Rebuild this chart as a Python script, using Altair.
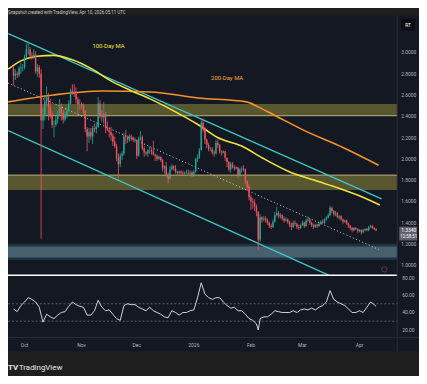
import altair as alt
import pandas as pd

# ---------------- data (XRP/USDT daily) ----------------
start_day = -6          # day index, 0 = 1 Oct 2025
first_open = 2.85
closes = [
    2.78, 2.80, 2.79, 2.85, 2.86, 2.86,
    2.96, 3.03, 3.03, 2.97, 2.96, 2.98, 2.82, 2.86, 2.80, 2.36,
    2.40, 2.54, 2.58, 2.49, 2.41, 2.32, 2.32, 2.37, 2.42, 2.49,
    2.43, 2.37, 2.41, 2.45, 2.52, 2.64, 2.63, 2.61, 2.56, 2.51,
    2.51, 2.50, 2.45, 2.28, 2.21, 2.25, 2.21, 2.29, 2.28, 2.30,
    2.52, 2.41, 2.39, 2.42, 2.29, 2.27, 2.25, 2.22, 2.16, 2.12,
    2.01, 1.95, 2.03, 2.05, 2.21, 2.20, 2.18, 2.21, 2.20, 2.18,
    2.18, 2.03, 2.19, 2.20, 2.10, 2.06, 2.05, 2.08, 2.08, 2.07,
    2.04, 2.03, 2.00, 2.02, 1.99, 1.91, 1.93, 1.84, 1.81, 1.90,
    1.93, 1.91, 1.88, 1.87, 1.88, 1.87, 1.86, 1.87, 1.87, 1.86,
    1.87, 1.84, 1.88, 2.00, 2.01, 2.08, 2.34, 2.28, 2.18, 2.13,
    2.09, 2.09, 2.06, 2.05, 2.15, 2.13, 2.07, 2.06, 2.07, 2.01,
    1.97, 1.90, 1.95, 1.92, 1.91, 1.92, 1.84, 1.90, 1.91, 1.90,
    1.79, 1.74, 1.64, 1.60, 1.59, 1.55, 1.50, 1.24, 1.45, 1.43,
    1.44, 1.42, 1.40, 1.37, 1.36, 1.41, 1.47, 1.49, 1.46, 1.47,
    1.44, 1.42, 1.43, 1.41, 1.38, 1.36, 1.40, 1.39, 1.36, 1.35,
    1.38, 1.40, 1.37, 1.42, 1.43, 1.40, 1.38, 1.36, 1.38, 1.37,
    1.39, 1.41, 1.40, 1.43, 1.45, 1.47, 1.54, 1.51, 1.48, 1.49,
    1.45, 1.46, 1.43, 1.41, 1.42, 1.39, 1.37, 1.35, 1.33, 1.35,
    1.34, 1.32, 1.33, 1.31, 1.33, 1.34, 1.33, 1.36, 1.37, 1.35,
    1.34, 1.33,
]
highs = [
    2.87, 2.84, 2.82, 2.87, 2.90, 2.89,
    2.98, 3.08, 3.10, 3.05, 3.00, 3.03, 3.01, 2.89, 2.88, 2.84,
    2.48, 2.58, 2.68, 2.62, 2.56, 2.45, 2.36, 2.40, 2.45, 2.56,
    2.52, 2.46, 2.44, 2.48, 2.55, 2.66, 2.70, 2.70, 2.67, 2.58,
    2.56, 2.53, 2.52, 2.46, 2.30, 2.29, 2.29, 2.31, 2.33, 2.34,
    2.58, 2.55, 2.46, 2.53, 2.44, 2.35, 2.30, 2.30, 2.24, 2.21,
    2.14, 2.05, 2.05, 2.07, 2.24, 2.27, 2.22, 2.23, 2.23, 2.21,
    2.20, 2.18, 2.21, 2.26, 2.22, 2.12, 2.07, 2.09, 2.12, 2.10,
    2.17, 2.05, 2.04, 2.03, 2.02, 2.00, 1.94, 1.97, 1.87, 1.93,
    1.95, 1.94, 1.94, 1.89, 1.89, 1.89, 1.89, 1.88, 1.90, 1.90,
    1.89, 1.89, 1.89, 2.01, 2.04, 2.10, 2.36, 2.38, 2.30, 2.19,
    2.15, 2.11, 2.11, 2.08, 2.18, 2.18, 2.14, 2.08, 2.08, 2.07,
    2.01, 1.98, 1.97, 1.97, 1.94, 1.93, 1.92, 1.91, 1.93, 1.94,
    1.91, 1.80, 1.76, 1.66, 1.63, 1.62, 1.57, 1.51, 1.48, 1.46,
    1.46, 1.46, 1.44, 1.41, 1.39, 1.43, 1.50, 1.55, 1.51, 1.49,
    1.48, 1.46, 1.45, 1.44, 1.42, 1.40, 1.42, 1.42, 1.40, 1.38,
    1.39, 1.42, 1.41, 1.44, 1.46, 1.44, 1.41, 1.39, 1.39, 1.39,
    1.41, 1.42, 1.43, 1.44, 1.46, 1.49, 1.56, 1.55, 1.52, 1.51,
    1.50, 1.47, 1.47, 1.44, 1.43, 1.43, 1.40, 1.38, 1.36, 1.36,
    1.36, 1.35, 1.34, 1.34, 1.34, 1.35, 1.35, 1.37, 1.38, 1.38,
    1.36, 1.35,
]
lows = [
    2.69, 2.74, 2.76, 2.77, 2.80, 2.82,
    2.84, 2.94, 2.98, 2.95, 2.93, 2.94, 2.80, 2.77, 2.76, 1.25,
    2.28, 2.36, 2.50, 2.36, 2.38, 2.29, 2.20, 2.30, 2.33, 2.40,
    2.36, 2.33, 2.35, 2.38, 2.44, 2.51, 2.60, 2.58, 2.52, 2.42,
    2.46, 2.47, 2.42, 2.25, 2.07, 2.15, 2.18, 2.14, 2.25, 2.24,
    2.29, 2.38, 2.35, 2.33, 2.24, 2.26, 2.20, 2.17, 2.12, 2.10,
    1.98, 1.82, 1.92, 1.99, 2.03, 2.14, 2.15, 2.16, 2.17, 2.16,
    2.15, 2.00, 2.02, 2.17, 2.08, 2.02, 2.03, 2.02, 2.05, 2.04,
    2.03, 1.98, 1.98, 1.99, 1.97, 1.88, 1.86, 1.83, 1.77, 1.81,
    1.89, 1.89, 1.86, 1.85, 1.85, 1.84, 1.84, 1.85, 1.86, 1.84,
    1.84, 1.83, 1.83, 1.87, 1.97, 2.00, 2.08, 2.25, 2.14, 2.10,
    2.07, 2.07, 2.04, 2.02, 2.04, 2.10, 2.05, 2.03, 2.05, 1.98,
    1.92, 1.88, 1.87, 1.91, 1.89, 1.90, 1.82, 1.83, 1.87, 1.88,
    1.76, 1.70, 1.61, 1.52, 1.53, 1.51, 1.46, 1.14, 1.22, 1.40,
    1.41, 1.40, 1.38, 1.35, 1.34, 1.35, 1.40, 1.46, 1.44, 1.44,
    1.42, 1.40, 1.41, 1.39, 1.36, 1.33, 1.35, 1.37, 1.34, 1.33,
    1.34, 1.37, 1.35, 1.36, 1.41, 1.38, 1.36, 1.34, 1.35, 1.35,
    1.36, 1.38, 1.39, 1.39, 1.42, 1.44, 1.46, 1.49, 1.46, 1.46,
    1.44, 1.43, 1.42, 1.39, 1.40, 1.38, 1.35, 1.33, 1.31, 1.32,
    1.33, 1.30, 1.31, 1.29, 1.30, 1.32, 1.32, 1.32, 1.35, 1.34,
    1.33, 1.32,
]

# moving averages (day index, price)
ma100_d = [-8.9, -2, 6.8, 15.7, 26, 37, 47.2, 58, 68.2, 80, 94.4, 104.9, 118, 129.5, 143.2, 157.3, 170.4, 180.9, 193]
ma100_p = [2.842, 2.92, 2.963, 2.972, 2.93, 2.84, 2.73, 2.64, 2.563, 2.46, 2.32, 2.20, 2.12, 2.005, 1.884, 1.80, 1.726, 1.66, 1.567]
ma200_d = [-8.9, 15.7, 42, 68.2, 94.4, 120.6, 126.9, 136.3, 152.1, 173, 192.4]
ma200_p = [2.535, 2.60, 2.637, 2.628, 2.572, 2.535, 2.488, 2.405, 2.265, 2.107, 1.94]

# trend channel (start / end points)
chan_upper_d = [-8.9, 194.0]
chan_upper_p = [3.177, 1.623]
chan_lower_d = [-8.9, 165.2]
chan_lower_p = [2.265, 0.907]
chan_mid_d = [-8.9, 192.4]
chan_mid_p = [2.712, 1.149]

# zones (price bottom, top)
zone_lo = [2.405, 1.707]
zone_hi = [2.516, 1.847]
demand_lo = 1.074
demand_hi = 1.177

# RSI (day index, value)
rsi_d = [-6, -4, -2, 0, 2, 4, 6, 8, 10, 12, 14, 16, 18, 20, 22, 24, 26, 28, 30, 32,
         34, 36, 38, 40, 42, 44, 46, 48, 50, 52, 54, 56, 58, 60, 62, 64, 66, 68, 70, 72,
         74, 76, 78, 80, 82, 84, 86, 88, 90, 92, 94, 96, 98, 100, 102, 104, 106, 108, 110, 112,
         114, 116, 118, 120, 122, 124, 126, 127, 128, 130, 132, 134, 136, 138, 140, 142, 144, 146, 148, 150,
         152, 154, 156, 158, 160, 162, 164, 166, 168, 170, 172, 174, 176, 178, 180, 182, 184, 186, 188, 190, 191]
rsi_v = [44, 41, 48, 52, 57, 55, 52, 46, 29, 38, 35, 33, 37, 40, 41, 47, 52, 49, 47, 46,
         37, 37, 42, 54, 46, 42, 43, 38, 33, 31, 48, 50, 49, 49, 46, 44, 42, 46, 42, 40,
         38, 35, 34, 42, 40, 37, 40, 40, 42, 43, 57, 74, 61, 57, 55, 57, 57, 52, 48, 45,
         46, 42, 42, 38, 33, 31, 27, 20, 33, 35, 35, 38, 42, 41, 40, 40, 40, 42, 40, 43,
         44, 43, 45, 43, 46, 48, 52, 65, 55, 52, 50, 48, 44, 40, 40, 42, 40, 46, 52, 49, 47]
rsi_levels = [50, 30]

price_ticks = [1.0, 1.2, 1.4, 1.6, 1.8, 2.0, 2.2, 2.4, 2.6, 2.8, 3.0]
price_tick_lbl = ["1.0000", "1.2000", "1.4000", "1.6000", "1.8000", "2.0000",
                  "2.2000", "2.4000", "2.6000", "2.8000", "3.0000"]
rsi_ticks = [20, 40, 60, 80]
rsi_tick_lbl = ["20.00", "40.00", "60.00", "80.00"]
month_d = [0, 31, 61, 92, 123, 151, 182]
month_lbl = ["Oct", "Nov", "Dec", "2026", "Feb", "Mar", "Apr"]

ma_labels = ["100-Day MA", "200-Day MA"]
ma_label_d = [45.6, 110.1]
ma_label_p = [3.056, 2.758]

# ---------------- build ----------------
W, H = 393, 368
BG = "#1f1f1f"
PANE = "#141823"
GREEN = "#22ab94"
RED = "#f7525f"
FONT = "Roboto"
AXC = "#b2b5be"

days = list(range(start_day, start_day + len(closes)))
opens = [first_open] + closes[:-1]
candles = pd.DataFrame({"d": days, "o": opens, "c": closes, "h": highs, "l": lows})
candles["dir"] = ["up" if c >= o else "down" for o, c in zip(opens, closes)]

XS = alt.Scale(domain=[-6.3, 199.8], range=[0, W], nice=False, zero=False)
PS = alt.Scale(domain=[0.9, 3.34], range=[268.75, 6.45], nice=False, zero=False)
RS = alt.Scale(domain=[11.4, 81], range=[330.9, 269.5], nice=False, zero=False)
CS = alt.Scale(domain=["up", "down"], range=[GREEN, RED])

dummy = pd.DataFrame({"a": [0]})
X = alt.X("d:Q", scale=XS, axis=None)

layers = []

# pane background
layers.append(alt.Chart(dummy).mark_rect(color=PANE).encode(
    x=alt.value(-2), x2=alt.value(420), y=alt.value(6), y2=alt.value(345)))

# zones
zones = pd.DataFrame({"lo": zone_lo, "hi": zone_hi})
layers.append(alt.Chart(zones).mark_rect(color="#59572f").encode(
    x=alt.value(0), x2=alt.value(W),
    y=alt.Y("lo:Q", scale=PS, axis=None), y2="hi:Q"))
edges = pd.DataFrame({"p": [zone_lo[0], zone_hi[1]]})
layers.append(alt.Chart(edges).mark_rule(color="#b9b27c", strokeWidth=1).encode(
    x=alt.value(0), x2=alt.value(W), y=alt.Y("p:Q", scale=PS, axis=None)))
dem = pd.DataFrame({"lo": [demand_lo - 0.025], "hi": [demand_hi + 0.025]})
layers.append(alt.Chart(dem).mark_rect(color="#1c3440").encode(
    x=alt.value(0), x2=alt.value(W),
    y=alt.Y("lo:Q", scale=PS, axis=None), y2="hi:Q"))
dem2 = pd.DataFrame({"lo": [demand_lo], "hi": [demand_hi]})
layers.append(alt.Chart(dem2).mark_rect(color="#46616d").encode(
    x=alt.value(0), x2=alt.value(W),
    y=alt.Y("lo:Q", scale=PS, axis=None), y2="hi:Q"))

# channel
for dd, pp in [(chan_upper_d, chan_upper_p), (chan_lower_d, chan_lower_p)]:
    df = pd.DataFrame({"d": dd, "p": pp})
    layers.append(alt.Chart(df).mark_line(color="#3cc8c8", strokeWidth=1.3).encode(
        x=X, y=alt.Y("p:Q", scale=PS, axis=None)))
df = pd.DataFrame({"d": chan_mid_d, "p": chan_mid_p})
layers.append(alt.Chart(df).mark_line(color="#d8dbe2", strokeWidth=1, strokeDash=[1, 2.5]).encode(
    x=X, y=alt.Y("p:Q", scale=PS, axis=None)))

# moving averages
for dd, pp, col in [(ma200_d, ma200_p, "#f7922a"), (ma100_d, ma100_p, "#f2e23f")]:
    df = pd.DataFrame({"d": dd, "p": pp})
    layers.append(alt.Chart(df).mark_line(color=col, strokeWidth=1.6, interpolate="monotone").encode(
        x=X, y=alt.Y("p:Q", scale=PS, axis=None)))

# candles
layers.append(alt.Chart(candles).mark_rule(strokeWidth=0.8).encode(
    x=X, y=alt.Y("l:Q", scale=PS, axis=None), y2="h:Q",
    color=alt.Color("dir:N", scale=CS, legend=None)))
layers.append(alt.Chart(candles).mark_bar(width=1.4).encode(
    x=X, y=alt.Y("o:Q", scale=PS, axis=None), y2="c:Q",
    color=alt.Color("dir:N", scale=CS, legend=None)))

# price scale labels
pt = pd.DataFrame({"p": price_ticks, "t": price_tick_lbl})
layers.append(alt.Chart(pt).mark_text(fontSize=5, font=FONT, color=AXC, align="left").encode(
    x=alt.value(397), y=alt.Y("p:Q", scale=PS, axis=None), text="t:N"))

# MA labels
mal = pd.DataFrame({"d": ma_label_d, "p": ma_label_p, "t": ma_labels, "k": ["a", "b"]})
layers.append(alt.Chart(mal).mark_text(fontSize=6, font=FONT).encode(
    x=X, y=alt.Y("p:Q", scale=PS, axis=None), text="t:N",
    color=alt.Color("k:N", scale=alt.Scale(domain=["a", "b"], range=["#f2e23f", "#f7a539"]), legend=None)))

# pane separators
layers.append(alt.Chart(dummy).mark_rule(color="#ffffff", strokeWidth=1.5).encode(
    x=alt.value(-2), x2=alt.value(W), y=alt.value(268)))
layers.append(alt.Chart(dummy).mark_rule(color="#2a2e39", strokeWidth=1).encode(
    x=alt.value(-2), x2=alt.value(420), y=alt.value(331)))
layers.append(alt.Chart(dummy).mark_rule(color="#2a2e39", strokeWidth=1).encode(
    x=alt.value(W), y=alt.value(6), y2=alt.value(345)))

# RSI
lv = pd.DataFrame({"v": rsi_levels})
layers.append(alt.Chart(lv).mark_rule(color="#787b86", strokeWidth=0.7, strokeDash=[2, 2]).encode(
    x=alt.value(0), x2=alt.value(W), y=alt.Y("v:Q", scale=RS, axis=None)))
rsi = pd.DataFrame({"d": rsi_d, "v": rsi_v})
layers.append(alt.Chart(rsi).mark_line(color="#e6e8ee", strokeWidth=0.9).encode(
    x=X, y=alt.Y("v:Q", scale=RS, axis=None)))
rt = pd.DataFrame({"v": rsi_ticks, "t": rsi_tick_lbl})
layers.append(alt.Chart(rt).mark_text(fontSize=5, font=FONT, color=AXC, align="left").encode(
    x=alt.value(398), y=alt.Y("v:Q", scale=RS, axis=None), text="t:N"))

# time axis labels
months = pd.DataFrame({"d": month_d, "t": month_lbl})
layers.append(alt.Chart(months).mark_text(fontSize=5, font=FONT, color=AXC).encode(
    x=X, y=alt.value(339), text="t:N"))

# current price box
layers.append(alt.Chart(dummy).mark_rect(color="#5d606b").encode(
    x=alt.value(395), x2=alt.value(413), y=alt.value(219), y2=alt.value(233)))
layers.append(alt.Chart(pd.DataFrame({"t": ["1.3340"]})).mark_text(
    fontSize=5, font=FONT, color="#ffffff", align="left").encode(
    x=alt.value(397), y=alt.value(222.5), text="t:N"))
layers.append(alt.Chart(pd.DataFrame({"t": ["12:58:51"]})).mark_text(
    fontSize=4.5, font=FONT, color="#ffffff", align="left").encode(
    x=alt.value(396), y=alt.value(229.5), text="t:N"))

# event marker
layers.append(alt.Chart(dummy).mark_point(shape="circle", size=30, color="#a23fb8", strokeWidth=0.8).encode(
    x=alt.value(380), y=alt.value(262)))

# top-right badge
layers.append(alt.Chart(dummy).mark_rect(color="#0b0d12").encode(
    x=alt.value(397), x2=alt.value(411), y=alt.value(9), y2=alt.value(21)))
layers.append(alt.Chart(pd.DataFrame({"t": ["RT"]})).mark_text(
    fontSize=5, font=FONT, color="#ffffff").encode(x=alt.value(404), y=alt.value(15), text="t:N"))

# header & footer
layers.append(alt.Chart(pd.DataFrame({"t": ["Snapshot created with TradingView, Apr 10, 2026 05:11 UTC"]})).mark_text(
    fontSize=4.5, font=FONT, color="#c9c9c9", align="left", baseline="top").encode(
    x=alt.value(0), y=alt.value(0), text="t:N"))
layers.append(alt.Chart(pd.DataFrame({"t": ["TV"]})).mark_text(
    fontSize=8, font=FONT, fontWeight="bold", color="#e8e8e8", align="left").encode(
    x=alt.value(0), y=alt.value(362), text="t:N"))
layers.append(alt.Chart(pd.DataFrame({"t": ["TradingView"]})).mark_text(
    fontSize=8, font=FONT, color="#e8e8e8", align="left").encode(
    x=alt.value(11), y=alt.value(362), text="t:N"))

chart = alt.layer(*layers).resolve_scale(y="independent", color="independent").properties(
    width=W, height=H,
    autosize=alt.AutoSizeParams(type="none"),
    padding={"left": 0, "top": 0, "right": 22, "bottom": 0},
    background=BG,
).configure_view(stroke=None)

chart.save("out.html", embed_options={"renderer": "svg", "actions": False})
